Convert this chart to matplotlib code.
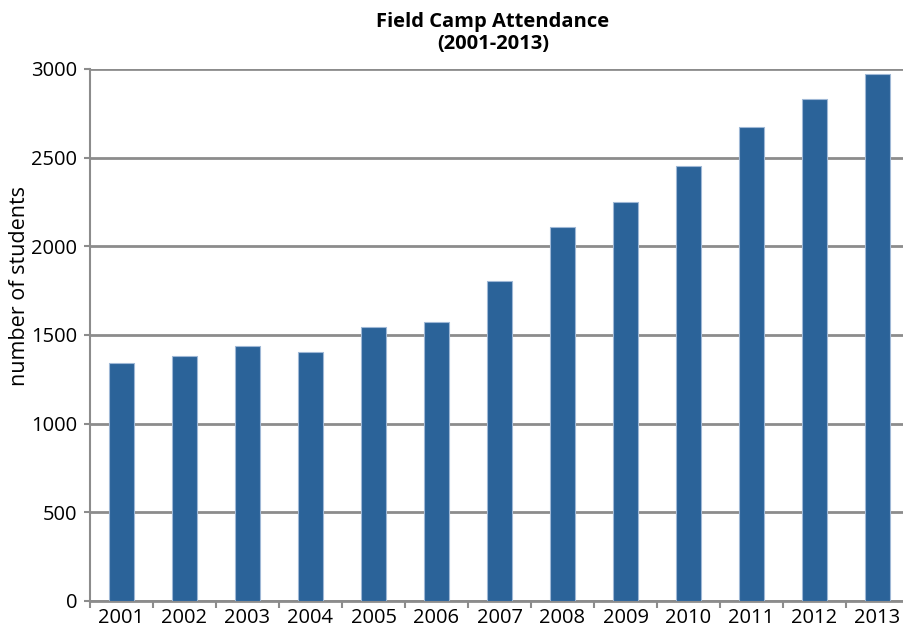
import matplotlib.pyplot as plt
import numpy as np

years = ['2001', '2002', '2003', '2004', '2005', '2006', '2007',
         '2008', '2009', '2010', '2011', '2012', '2013']
students = [1342, 1382, 1438, 1406, 1543, 1574, 1805,
            2111, 2250, 2453, 2672, 2833, 2972]
yticks = [0, 500, 1000, 1500, 2000, 2500, 3000]

plt.rcParams['font.family'] = ['Open Sans', 'DejaVu Sans']

fig = plt.figure(figsize=(9.04, 6.31), dpi=100)
ax = fig.add_axes([90 / 904, 30 / 631, 819 / 904, 532 / 631])

x = np.arange(len(years))
ax.bar(x, students, width=0.4, color='#2b6399', edgecolor='#9fb8d6',
       linewidth=0.8, zorder=3)

ax.set_xlim(-0.5, len(years) - 0.5)
ax.set_ylim(0, 3000)
ax.set_yticks(yticks)
ax.set_yticklabels([str(v) for v in yticks], fontsize=14.5)
ax.set_xticks(x)
ax.set_xticklabels(years, fontsize=14.5)
ax.set_xticks(np.arange(len(years) + 1) - 0.5, minor=True)

ax.yaxis.grid(True, color='#8c8c8c', linewidth=2, zorder=0)
for s in ['top', 'right']:
    ax.spines[s].set_visible(False)
ax.spines['left'].set_color('#8c8c8c')
ax.spines['left'].set_linewidth(1.5)
ax.spines['bottom'].set_color('#8c8c8c')
ax.spines['bottom'].set_linewidth(2)
ax.tick_params(axis='x', which='major', length=0, pad=5)
ax.tick_params(axis='x', which='minor', length=5, width=1.5, color='#8c8c8c')
ax.tick_params(axis='y', length=4, width=1.5, color='#8c8c8c', pad=5)

fig.text(19.5 / 904, 1 - 286 / 631, 'number of students', rotation=90,
         ha='center', va='center', fontsize=15.5)
fig.text(493 / 904, 1 - 33 / 631, 'Field Camp Attendance\n(2001-2013)',
         ha='center', va='center', fontsize=14.5, fontweight='bold',
         linespacing=1.1)

fig.savefig('out.png', dpi=100)
